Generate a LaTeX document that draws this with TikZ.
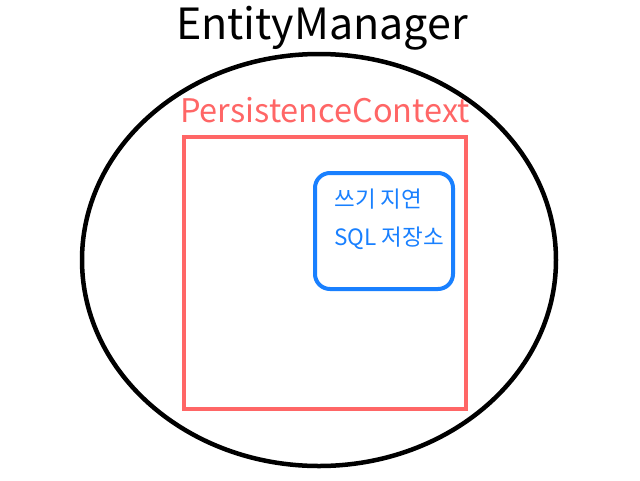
\documentclass[tikz,border=0pt]{standalone}
\usepackage{fontspec}
\setmainfont{Noto Sans CJK KR}
\usetikzlibrary{shapes.geometric}
\definecolor{ctxred}{RGB}{255,102,102}
\definecolor{bufblue}{RGB}{25,128,255}
\begin{document}
\begin{tikzpicture}[x=1pt,y=-1pt,
    manager/.style = {draw=black,line width=4.5pt,ellipse,minimum width=474pt,minimum height=412pt},
    context/.style = {draw=ctxred,line width=4pt,minimum width=282pt,minimum height=272pt},
    buffer/.style  = {draw=bufblue,line width=4pt,rounded corners=15pt,minimum width=138pt,minimum height=116pt}]
    \useasboundingbox (0,0) rectangle (640,480);
    \node[manager] (em) at (319,260) {};
    \node[font=\fontsize{43}{45}\selectfont] (emlabel) at (322,28) {EntityManager};

    \node[context] (pc) at (325,273) {};
    \node[font=\fontsize{32.5}{34}\selectfont,text=ctxred] (pclabel) at (325,110) {PersistenceContext};

    \node[buffer] (sql) at (384,231) {};
    \node[font=\fontsize{22.5}{24}\selectfont,text=bufblue,anchor=west] (sqlA) at (331,199) {쓰기 지연};
    \node[font=\fontsize{22.5}{24}\selectfont,text=bufblue,anchor=west] (sqlB) at (331,238) {SQL 저장소};
\end{tikzpicture}
\end{document}
